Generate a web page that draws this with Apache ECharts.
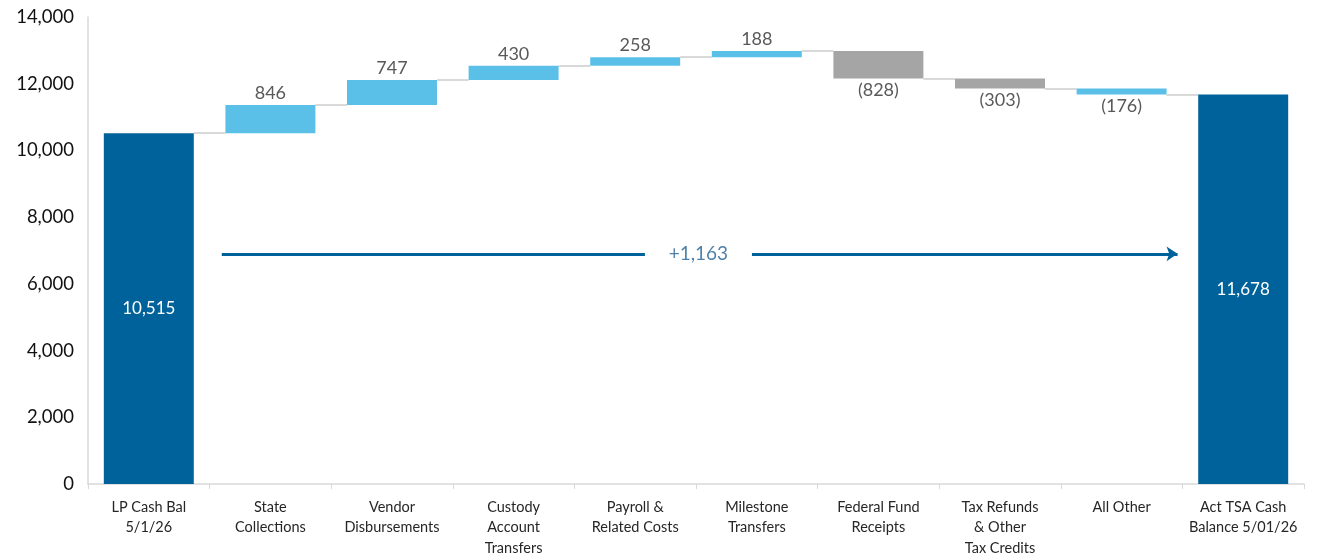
<!DOCTYPE html>
<html>
<head>
<meta charset="utf-8">
<script src="https://cdn.jsdelivr.net/npm/echarts@6/dist/echarts.min.js"></script>
<style>
  html, body { margin: 0; padding: 0; background: #fff; }
  #chart { width: 1319px; height: 556px; }
</style>
</head>
<body>
<div id="chart"></div>
<script>
// categories and values
const categories = [
  'LP Cash Bal\n5/1/26', 'State\nCollections', 'Vendor\nDisbursements',
  'Custody\nAccount\nTransfers', 'Payroll &\nRelated Costs', 'Milestone\nTransfers',
  'Federal Fund\nReceipts', 'Tax Refunds\n& Other\nTax Credits', 'All Other',
  'Act TSA Cash\nBalance 5/01/26'
];
const startBalance = 10515;
const changes = [846, 747, 430, 258, 188, -828, -303, -176];
const endBalance = 11678;
// bar kind per category: total / inflow (light) / outflow (grey)
const barKinds = ['total', 'light', 'light', 'light', 'light', 'light', 'grey', 'grey', 'light', 'total'];

// the +1,163 arrow across the middle
const arrowLevel = 6900;
const arrowLeft = [1.1, 4.58];
const arrowRight = [5.46, 8.96];
const arrowLabelX = 5.02;
const netChange = endBalance - startBalance;

const kindColor = { total: '#00629B', light: '#5BC0E8', grey: '#A5A5A5' };
const fmt = v => v.toLocaleString('en-US');

// build waterfall stacks
const bases = [0];
const heights = [startBalance];
const labels = [fmt(startBalance)];
const totals = [startBalance];
let running = startBalance;
changes.forEach(c => {
  const next = running + c;
  bases.push(Math.min(running, next));
  heights.push(Math.abs(c));
  labels.push(c < 0 ? '(' + fmt(-c) + ')' : fmt(c));
  running = next;
  totals.push(running);
});
bases.push(0);
heights.push(endBalance);
labels.push(fmt(endBalance));

const barHalf = 0.37; // bar width as share of a category is 0.74
const connectors = [];
for (let i = 0; i < categories.length - 1; i++) {
  connectors.push({ coords: [[i + 0.5 + barHalf, totals[i]], [i + 1.5 - barHalf, totals[i]]] });
}

const font = 'Lato, "Open Sans", sans-serif';

const barData = heights.map((h, i) => {
  const kind = barKinds[i];
  let pos = 'top';
  let color = '#595959';
  let size = 18;
  if (kind === 'total') { pos = 'inside'; color = '#ffffff'; size = 17; }
  else if (i > 0 && i <= changes.length && changes[i - 1] < 0) pos = 'bottom';
  return {
    value: h,
    itemStyle: { color: kindColor[kind] },
    label: { show: true, position: pos, color: color, fontSize: size, distance: 3,
      formatter: () => labels[i] }
  };
});

const chart = echarts.init(document.getElementById('chart'));
chart.setOption({
  animation: false,
  grid: { left: 88, right: 15, top: 17, bottom: 72, containLabel: false, outerBoundsMode: 'none' },
  textStyle: { fontFamily: font },
  xAxis: [{
    type: 'category',
    data: categories,
    axisLine: { lineStyle: { color: '#D9D9D9', width: 1.5 } },
    axisTick: { show: true, length: 5, lineStyle: { color: '#D9D9D9' } },
    axisLabel: { interval: 0, fontSize: 14.5, lineHeight: 20.5, color: '#262626', margin: 13, fontFamily: font }
  }, {
    type: 'value', min: 0, max: categories.length, show: false
  }],
  yAxis: {
    type: 'value', min: 0, max: 14000, interval: 2000,
    axisLine: { show: true, lineStyle: { color: '#D9D9D9', width: 1.5 } },
    axisTick: { show: false },
    splitLine: { show: false },
    axisLabel: { fontSize: 18.5, color: '#111', margin: 14, fontFamily: font, formatter: v => fmt(v) }
  },
  series: [{
    type: 'bar', stack: 'wf', silent: true,
    itemStyle: { color: 'transparent' },
    data: bases,
    barCategoryGap: '26%'
  }, {
    type: 'bar', stack: 'wf',
    data: barData,
    barCategoryGap: '26%'
  }, {
    type: 'lines', coordinateSystem: 'cartesian2d', xAxisIndex: 1, yAxisIndex: 0,
    symbol: ['none', 'none'],
    lineStyle: { color: '#D9D9D9', width: 2, opacity: 1 },
    data: connectors
  }, {
    type: 'lines', coordinateSystem: 'cartesian2d', xAxisIndex: 1, yAxisIndex: 0,
    symbol: ['none', 'arrow'], symbolSize: [0, 11],
    lineStyle: { color: '#00629B', width: 3, opacity: 1 },
    data: [
      { coords: [[arrowLeft[0], arrowLevel], [arrowLeft[1], arrowLevel]], symbol: ['none', 'none'] },
      { coords: [[arrowRight[0], arrowLevel], [arrowRight[1], arrowLevel]] }
    ]
  }, {
    type: 'scatter', xAxisIndex: 1, yAxisIndex: 0, symbolSize: 0,
    data: [[arrowLabelX, arrowLevel]],
    label: { show: true, position: 'inside', color: '#1F5F94', fontSize: 19,
      formatter: () => '+' + fmt(netChange) }
  }]
});
</script>
</body>
</html>
